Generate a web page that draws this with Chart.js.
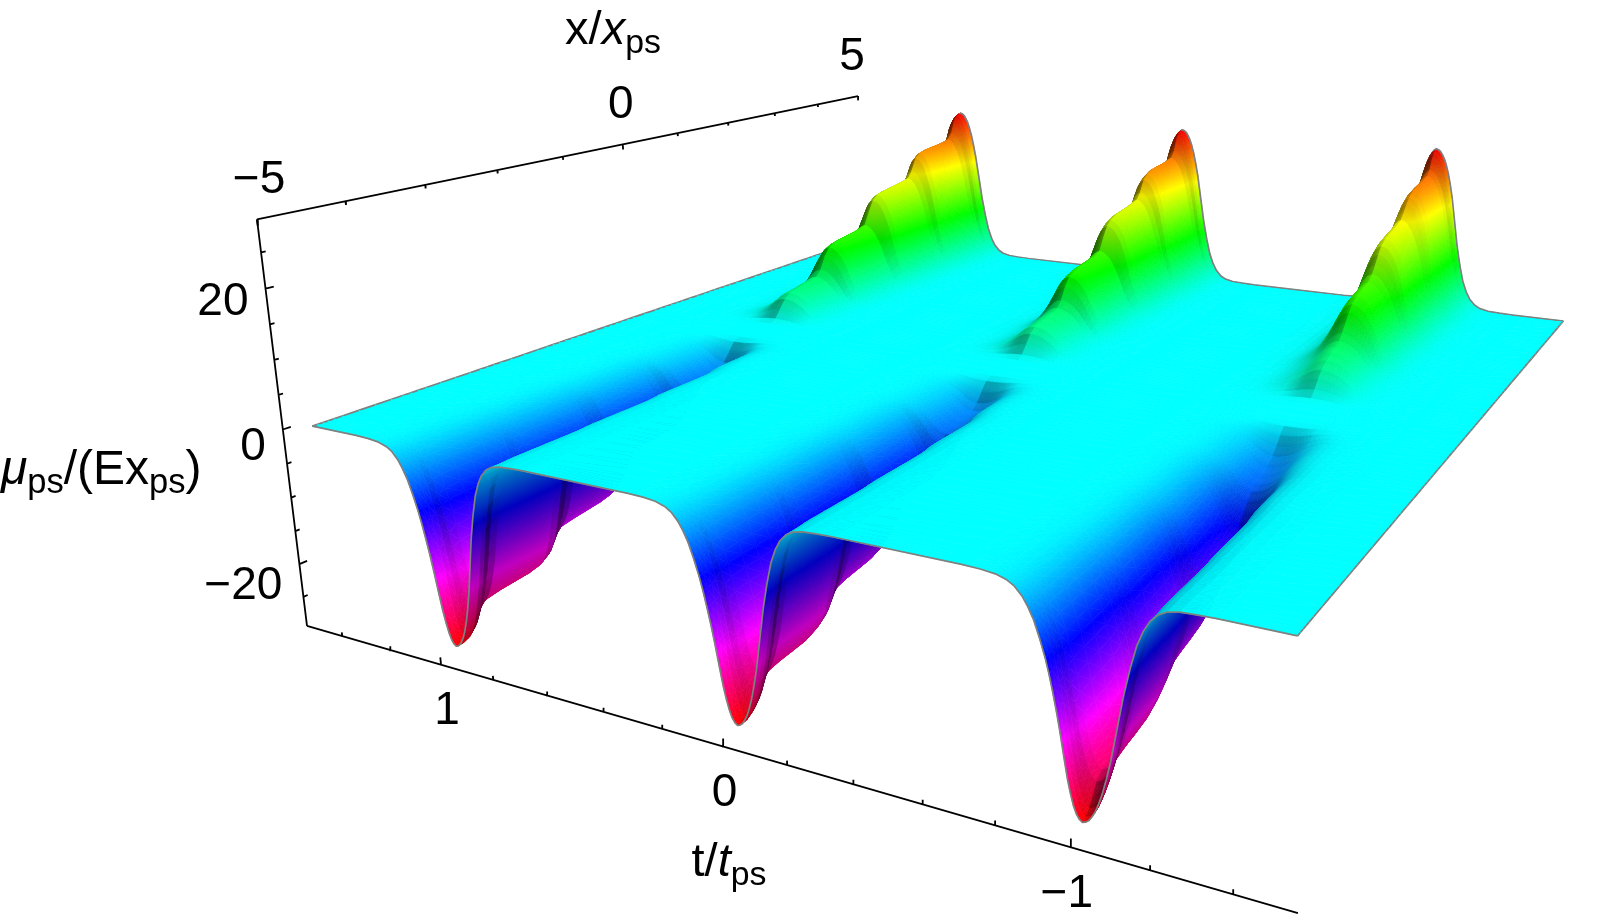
<!DOCTYPE html>
<html>
<head>
<meta charset="utf-8">
<title>Chemical potential surface</title>
<script src="https://cdn.jsdelivr.net/npm/chart.js@4"></script>
<style>
  html, body { margin: 0; background: #fff; }
  #wrap { position: relative; width: 1600px; height: 919px; }
</style>
</head>
<body>
<div id="wrap"><canvas id="surface-chart"></canvas></div>
<script>
// Stations along x/x_ps (the surface is odd in x, so only x >= 0 is tabulated)
const xStations = [0, 0.2, 0.3, 0.4, 0.5, 0.6, 0.7, 0.85, 1.0, 1.15, 1.25, 1.35, 1.45, 1.55, 1.65, 1.8, 2.0, 2.2, 2.35, 2.45, 2.55, 2.65, 2.8, 3.0, 3.2, 3.4, 3.5, 3.6, 3.7, 3.85, 4.05, 4.25, 4.45, 4.55, 4.62, 4.68, 4.74, 4.8];

// Crest height of each ridge at those stations
const ridgeAtOne = [0, 0, 0.1, 0.6, 2.0, 3.4, 4.1, 4.4, 4.7, 5.0, 5.3, 6.3, 8.4, 9.8, 10.3, 10.6, 10.9, 11.2, 11.7, 13.8, 15.8, 16.6, 17.0, 17.3, 17.6, 18.0, 19.2, 21.4, 22.2, 22.6, 22.8, 23.0, 23.4, 24.6, 26.8, 27.6, 27.9, 28];
const ridgeAtZero = [0, 0, 0.1, 0.6, 1.9, 3.3, 4.1, 4.4, 4.7, 5.0, 5.4, 6.4, 8.4, 9.7, 10.2, 10.6, 10.9, 11.2, 11.8, 13.8, 15.6, 16.4, 17.0, 17.3, 17.6, 18.1, 19.2, 21.2, 22.0, 22.6, 22.8, 23.0, 23.4, 24.6, 26.7, 27.5, 27.9, 28];
const ridgeAtMinusOne = [0, 0, 0.1, 0.4, 1.3, 2.5, 3.5, 4.4, 5.0, 5.5, 6.0, 6.9, 8.1, 9.4, 10.4, 11.2, 11.7, 12.1, 13.0, 14.2, 15.6, 16.7, 17.5, 18.0, 18.4, 19.0, 20.0, 21.1, 22.0, 22.8, 23.2, 23.5, 24.0, 24.8, 26.2, 27.2, 27.8, 28];

const ridgeCentres = [1, 0, -1];

// Cross-section of a ridge: fraction of the crest height at a distance from its centre.
// The side toward -t stays full for longer before it drops.
const pulseOffsets = [0, 0.008, 0.016, 0.024, 0.032, 0.04, 0.05, 0.06, 0.07, 0.08, 0.09, 0.1, 0.115, 0.13, 0.145, 0.16, 0.18, 0.2, 0.23, 0.27, 0.32];
const pulseAbove = [1, 0.99, 0.97, 0.935, 0.885, 0.825, 0.73, 0.63, 0.54, 0.46, 0.385, 0.32, 0.24, 0.17, 0.12, 0.08, 0.045, 0.025, 0.01, 0.003, 0];
const pulseBelow = [1, 0.995, 0.985, 0.965, 0.94, 0.905, 0.85, 0.78, 0.7, 0.6, 0.5, 0.4, 0.28, 0.18, 0.115, 0.07, 0.035, 0.017, 0.006, 0.002, 0];

const tEdge = 1.5;

const xTicks = [-5, -4, -3, -2, -1, 0, 1, 2, 3, 4, 5];
const tTicks = [1.4, 1.2, 1, 0.8, 0.6, 0.4, 0.2, 0, -0.2, -0.4, -0.6, -0.8, -1, -1.2, -1.4];
const zTicks = [25, 20, 15, 10, 5, 0, -5, -10, -15, -20, -25];
const xLabelled = [-5, 0, 5];
const tLabelled = [1, 0, -1];
const zLabelled = [20, 0, -20];

// Plot box: the three drawn edges plus the perspective of the view
const BOX = { x: 5, t: 1.55, z: 29.5 };
const CAM = {
  o: [257, 219.3],
  a: [1077.2, -70],     // along x
  b: [678.7, 38.7],     // along t
  c: [71.5, 450.5],     // along z
  p: 0.555, q: -0.294, r: 0.07,
};

function project(x, t, z) {
  const u = (x + BOX.x) / (2 * BOX.x);
  const v = (BOX.t - t) / (2 * BOX.t);
  const w = (BOX.z - z) / (2 * BOX.z);
  const d = 1 + CAM.p * u + CAM.q * v + CAM.r * w;
  return {
    x: (CAM.o[0] + u * CAM.a[0] + v * CAM.b[0] + w * CAM.c[0]) / d,
    y: (CAM.o[1] + u * CAM.a[1] + v * CAM.b[1] + w * CAM.c[1]) / d,
  };
}

// Rows in t, far side first. Each row remembers which ridge and table entry it sits on.
const tRows = [{ t: tEdge, ridge: 0, pulse: 0 }];
ridgeCentres.forEach((centre, ridge) => {
  for (let i = pulseOffsets.length - 1; i > 0; i--) {
    tRows.push({ t: centre + pulseOffsets[i], ridge, pulse: pulseAbove[i] });
  }
  for (let i = 0; i < pulseOffsets.length; i++) {
    tRows.push({ t: centre - pulseOffsets[i], ridge, pulse: pulseBelow[i] });
  }
});
tRows.push({ t: -tEdge, ridge: 2, pulse: 0 });

const ridges = [ridgeAtOne, ridgeAtZero, ridgeAtMinusOne];

// One dataset per x station, far side first, so the painter can walk them in order
const xColumns = [];
for (let i = xStations.length - 1; i > 0; i--) xColumns.push({ x: xStations[i], sign: 1, i });
xColumns.push({ x: 0, sign: 1, i: 0 });
for (let i = 1; i < xStations.length; i++) xColumns.push({ x: -xStations[i], sign: -1, i });

const surfaceSets = xColumns.map(col => ({
  label: "x=" + col.x,
  surface: true,
  showLine: false,
  pointRadius: 0,
  data: tRows.map(row => {
    const z = col.sign * ridges[row.ridge][col.i] * row.pulse;
    const p = project(col.x, row.t, z);
    return { x: p.x, y: p.y, z, gx: col.x, gt: row.t };
  }),
}));

// Axis lines with their ticks, broken with nulls between the tick strokes
function axisData(start, end, ticks, mark) {
  const pts = [project(...start), project(...end), { x: null, y: null }];
  ticks.forEach(v => {
    const [a, b] = mark(v);
    pts.push(project(...a), project(...b), { x: null, y: null });
  });
  return pts;
}

const axisStyle = { showLine: true, pointRadius: 0, borderColor: "#000", borderWidth: 1.8, spanGaps: false };

const axisSets = [
  {
    ...axisStyle, label: "x/x_ps",
    data: axisData([-5, BOX.t, BOX.z], [5, BOX.t, BOX.z], xTicks, v => {
      const len = v % 5 === 0 ? 0.9 : 0.55;
      return [[v, BOX.t, BOX.z], [v, BOX.t, BOX.z - len]];
    }),
  },
  {
    ...axisStyle, label: "t/t_ps",
    data: axisData([-5, BOX.t, -BOX.z], [-5, -BOX.t, -BOX.z], tTicks, v => {
      const len = Number.isInteger(v) ? 1.1 : 0.6;
      return [[-5, v, -BOX.z], [-5, v, -BOX.z + len]];
    }),
  },
  {
    ...axisStyle, label: "mu_ps",
    data: axisData([-5, BOX.t, BOX.z], [-5, BOX.t, -BOX.z], zTicks, v => {
      const len = v % 20 === 0 ? 0.09 : 0.05;
      return [[-5, BOX.t, v], [-5 + len, BOX.t, v]];
    }),
  },
];

// Height colouring: cyan at zero, through green to red upward, through blue and magenta to red downward
const Z_SPAN = 28;
function hueAt(z) {
  return Math.min(1, Math.max(0, 0.5 - z / (2 * Z_SPAN)));
}
function rgbOf(h, shade) {
  const s = h * 6;
  const f = c => Math.round(255 * shade * Math.max(0, Math.min(1, c)));
  return `rgb(${f(Math.abs(s - 3) - 1)},${f(2 - Math.abs(s - 2))},${f(2 - Math.abs(s - 4))})`;
}
const hueBreaks = [1, 2, 3, 4, 5].map(k => Z_SPAN * (1 - k / 3));

function triFill(ctx, a, b, c, shade) {
  const lo = Math.min(a.z, b.z, c.z);
  const hi = Math.max(a.z, b.z, c.z);
  if (hi - lo < 0.03) return rgbOf(hueAt((lo + hi) / 2), shade);
  const det = (b.px - a.px) * (c.py - a.py) - (c.px - a.px) * (b.py - a.py);
  if (Math.abs(det) < 0.02) return rgbOf(hueAt((lo + hi) / 2), shade);
  const gx = ((b.z - a.z) * (c.py - a.py) - (c.z - a.z) * (b.py - a.py)) / det;
  const gy = ((c.z - a.z) * (b.px - a.px) - (b.z - a.z) * (c.px - a.px)) / det;
  const len2 = gx * gx + gy * gy;
  const base = [a, b, c].find(p => p.z === lo);
  const span = (hi - lo) / len2;
  const grad = ctx.createLinearGradient(base.px, base.py, base.px + gx * span, base.py + gy * span);
  grad.addColorStop(0, rgbOf(hueAt(lo), shade));
  hueBreaks.forEach(zb => {
    if (zb > lo && zb < hi) grad.addColorStop((zb - lo) / (hi - lo), rgbOf(hueAt(zb), shade));
  });
  grad.addColorStop(1, rgbOf(hueAt(hi), shade));
  return grad;
}

// Faces turned toward +t sit in shadow. Step risers shade hard on that side and only
// faintly on the lit flank.
function quadShade(p00, p01, p10, p11) {
  const dx = Math.abs(p00.gx - p10.gx);
  const dt = Math.abs(p00.gt - p01.gt);
  // columns run from +x to -x, rows from +t to -t
  const zx = ((p00.z + p01.z) - (p10.z + p11.z)) / (2 * dx) * 0.068;
  const zt = ((p00.z + p10.z) - (p01.z + p11.z)) / (2 * dt) * 0.0234;
  const n = Math.sqrt(1 + zt * zt);
  const riser = Math.max(0, Math.min(1, (zx - 0.2) * 1.2));
  const dark = 0.26 * Math.max(0, -zt) / n + (zt < 0 ? 0.36 : 0.13) * riser;
  return 1 - Math.min(0.6, dark);
}

const surfacePainter = {
  id: "surfacePainter",
  beforeDatasetsDraw(chart) {
    const { ctx, scales } = chart;
    const sets = chart.data.datasets.filter(d => d.surface);
    const grid = sets.map(d => d.data.map(pt => ({
      ...pt,
      px: scales.x.getPixelForValue(pt.x),
      py: scales.y.getPixelForValue(pt.y),
    })));
    const rows = grid[0].length;
    const edge = (from, to) => {
      ctx.beginPath();
      ctx.moveTo(from.px, from.py);
      ctx.lineTo(to.px, to.py);
      ctx.stroke();
    };
    const outline = pts => {
      ctx.beginPath();
      pts.forEach((p, i) => (i ? ctx.lineTo(p.px, p.py) : ctx.moveTo(p.px, p.py)));
      ctx.stroke();
    };
    ctx.save();
    ctx.lineJoin = "round";
    for (let c = 0; c < grid.length - 1; c++) {
      const far = grid[c];
      const near = grid[c + 1];
      for (let r = 0; r < rows - 1; r++) {
        const p00 = far[r], p01 = far[r + 1], p10 = near[r], p11 = near[r + 1];
        const shade = quadShade(p00, p01, p10, p11);
        [[p00, p10, p01], [p10, p11, p01]].forEach(([a, b, d]) => {
          const fill = triFill(ctx, a, b, d, shade);
          ctx.fillStyle = fill;
          ctx.strokeStyle = fill;
          ctx.lineWidth = 0.7;
          ctx.beginPath();
          ctx.moveTo(a.px, a.py);
          ctx.lineTo(b.px, b.py);
          ctx.lineTo(d.px, d.py);
          ctx.closePath();
          ctx.fill();
          ctx.stroke();
        });
      }
      ctx.strokeStyle = "#808080";
      ctx.lineWidth = 1.7;
      if (c === 0) outline(far);
      edge(far[0], near[0]);
      edge(far[rows - 1], near[rows - 1]);
    }
    outline(grid[grid.length - 1]);
    ctx.restore();
  },
};

// Text runs with italics and subscripts
const FONT = '"Liberation Sans", Arial, sans-serif';
function drawRuns(ctx, runs, x, y, size, align) {
  const fontOf = run => `${run.italic ? "italic " : ""}${run.sub ? size * 0.72 : size}px ${FONT}`;
  let width = 0;
  runs.forEach(run => { ctx.font = fontOf(run); width += ctx.measureText(run.text).width; });
  let cursor = align === "left" ? x : x - width / 2;
  runs.forEach(run => {
    ctx.font = fontOf(run);
    ctx.fillText(run.text, cursor, run.sub ? y + size * 0.26 : y);
    cursor += ctx.measureText(run.text).width;
  });
}

const xTitle = [{ text: "x/" }, { text: "x", italic: true }, { text: "ps", sub: true }];
const tTitle = [{ text: "t/" }, { text: "t", italic: true }, { text: "ps", sub: true }];
const zTitle = [{ text: "\u03bc", italic: true }, { text: "ps", sub: true }, { text: "/(Ex" }, { text: "ps", sub: true }, { text: ")" }];

const tickText = v => (v < 0 ? "\u2212" + Math.abs(v) : String(v));

const axisLabels = {
  id: "axisLabels",
  afterDatasetsDraw(chart) {
    const { ctx, scales } = chart;
    const at = p => [scales.x.getPixelForValue(p.x), scales.y.getPixelForValue(p.y)];
    const size = 46;
    ctx.save();
    ctx.fillStyle = "#000";
    ctx.textBaseline = "middle";
    ctx.font = `${size}px ${FONT}`;

    ctx.textAlign = "center";
    xLabelled.forEach(v => {
      const [px, py] = at(project(v, BOX.t, BOX.z));
      ctx.fillText(tickText(v), px - 2 - v * 0.8, py - 39);
    });
    tLabelled.forEach(v => {
      const [px, py] = at(project(-5, v, -BOX.z));
      ctx.fillText(tickText(v), px + 1 + v * 5, py + 47);
    });
    ctx.textAlign = "right";
    zLabelled.forEach(v => {
      const [px, py] = at(project(-5, BOX.t, v));
      ctx.fillText(tickText(v), px - 17, py + 18 - v * 0.2);
    });

    ctx.textAlign = "left";
    drawRuns(ctx, xTitle, 613, 31, 47, "center");
    drawRuns(ctx, tTitle, 729, 863, 47, "center");
    drawRuns(ctx, zTitle, 1, 471, 48, "left");
    ctx.restore();
  },
};

new Chart(document.getElementById("surface-chart"), {
  type: "scatter",
  data: { datasets: [...axisSets, ...surfaceSets] },
  plugins: [surfacePainter, axisLabels],
  options: {
    responsive: true,
    maintainAspectRatio: false,
    animation: false,
    events: [],
    layout: { padding: 0 },
    plugins: { legend: { display: false }, tooltip: { enabled: false } },
    scales: {
      x: { type: "linear", min: 0, max: 1600, display: false },
      y: { type: "linear", min: 0, max: 919, reverse: true, display: false },
    },
  },
});
</script>
</body>
</html>
